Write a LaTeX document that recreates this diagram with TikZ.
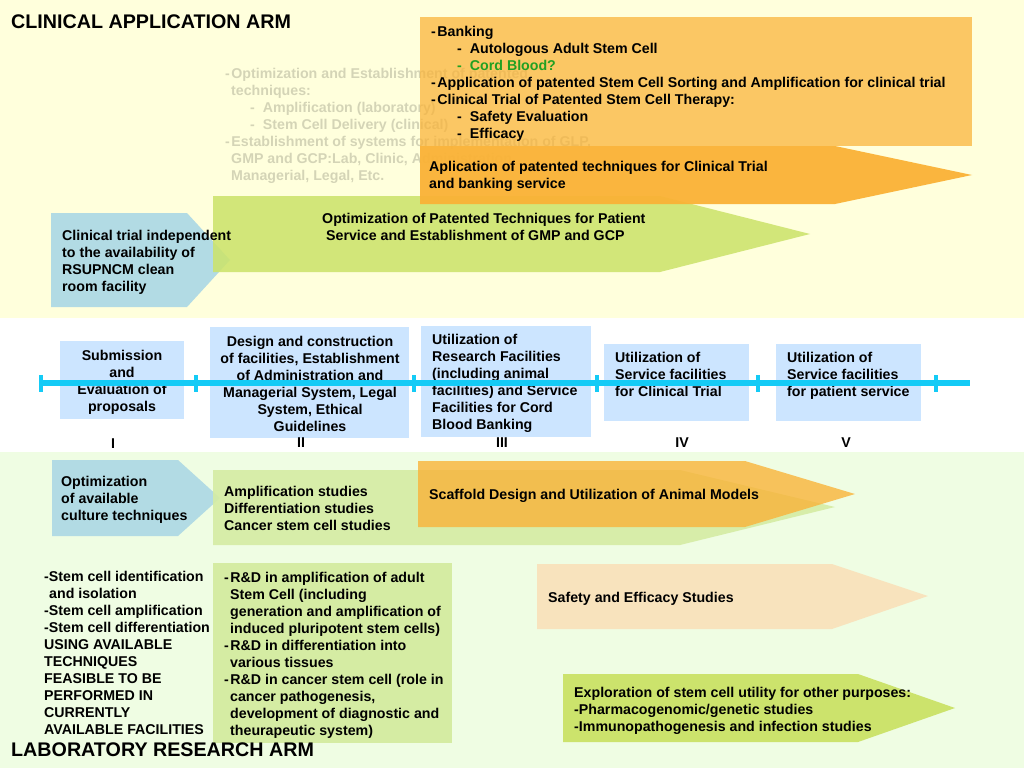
\documentclass[tikz,border=0pt]{standalone}
\usepackage{fontspec}
\setmainfont{Liberation Sans}
\definecolor{bgyellow}{HTML}{FFFFDC}
\definecolor{bggreen}{HTML}{EFFDE3}
\definecolor{tagblue}{HTML}{B2DBE4}
\definecolor{limegreen}{HTML}{CCE36C}
\definecolor{palegreen}{HTML}{D5ECA3}
\definecolor{deeporange}{HTML}{FAB236}
\definecolor{tlbox}{HTML}{CCE5FF}
\definecolor{tlcyan}{HTML}{14CBF6}
\definecolor{beige}{HTML}{F8E3BD}
\definecolor{cordgreen}{HTML}{22A022}
\begin{document}
\begin{tikzpicture}[x=1pt, y=-1pt,
    every node/.style={inner sep=0, anchor=north west, align=left, font=\fontsize{14.2}{17}\selectfont\bfseries},
    armtitle/.style={font=\fontsize{19.7}{22}\selectfont\bfseries},
    tline/.style={draw=tlcyan, line width=6}]
    \useasboundingbox (0,0) rectangle (1024,768) ;
    \fill [bgyellow] (0,0) rectangle (1024,318) ;
    \fill [white] (0,318) rectangle (1024,452) ;
    \fill [bggreen] (0,452) rectangle (1024,768) ;

    \node (clintitle) [armtitle] at (11,15) {CLINICAL APPLICATION ARM} ;
    \node (oldplan) [text=black, opacity=0.17] at (225,68) {-\hspace{1.5pt}Optimization and Establishment of patented\\
        \hspace*{6pt}techniques:\\
        \hspace*{25pt}-\hspace*{8pt}Amplification (laboratory)\\
        \hspace*{25pt}-\hspace*{8pt}Stem Cell Delivery (clinical)\\
        -\hspace{1.5pt}Establishment of systems for implementation of GLP,\\
        \hspace*{6pt}GMP and GCP:Lab, Clinic, Administration,\\
        \hspace*{6pt}Managerial, Legal, Etc.} ;
    \fill [tagblue] (51,213) -- (187,213) -- (230,260) -- (187,307) -- (51,307) -- cycle ;
    \fill [limegreen, opacity=0.88] (213,196) -- (660,196) -- (810,234) -- (660,272) -- (213,272) -- cycle ;
    \fill [deeporange, opacity=0.72] (420,17) rectangle (972,146) ;
    \fill [deeporange, opacity=0.95] (420,146) -- (835,146) -- (972,175) -- (835,204) -- (420,204) -- cycle ;
    \node (cleanroom) at (62,230) {Clinical trial independent\\to the availability of\\RSUPNCM clean\\room facility} ;
    \node (gmpgcp) at (322,213) {Optimization of Patented Techniques for Patient\\
        \hspace*{4pt}Service and Establishment of GMP and GCP} ;
    \node (banking) at (431,26) {-\hspace{1.5pt}Banking\\
        \hspace*{26pt}-\hspace*{8pt}Autologous Adult Stem Cell\\
        \hspace*{26pt}{\color{cordgreen}-\hspace*{8pt}Cord Blood?}\\
        -\hspace{1.5pt}Application of patented Stem Cell Sorting and Amplification for clinical trial\\
        -\hspace{1.5pt}Clinical Trial of Patented Stem Cell Therapy:\\
        \hspace*{26pt}-\hspace*{8pt}Safety Evaluation\\
        \hspace*{26pt}-\hspace*{8pt}Efficacy} ;
    \node (clintrial) at (429,161) {Aplication of patented techniques for Clinical Trial\\and banking service} ;

    \fill [tlbox] (60,341) rectangle (184,419) ;
    \fill [tlbox] (210,327) rectangle (409,438) ;
    \fill [tlbox] (421,326) rectangle (591,437) ;
    \fill [tlbox] (604,344) rectangle (749,421) ;
    \fill [tlbox] (776,344) rectangle (921,421) ;
    \node (phaseone) [anchor=north, align=center] at (122,350) {Submission\\and\\Evaluation of\\proposals} ;
    \node (phasetwo) [anchor=north, align=center] at (310,336) {Design and construction\\of facilities, Establishment\\of Administration and\\Managerial System, Legal\\System, Ethical\\Guidelines} ;
    \node (phasethree) at (432,334) {Utilization of\\Research Facilities\\(including animal\\facilities) and Service\\Facilities for Cord\\Blood Banking} ;
    \node (phasefour) at (615,352) {Utilization of\\Service facilities\\for Clinical Trial} ;
    \node (phasefive) at (787,352) {Utilization of\\Service facilities\\for patient service} ;
    \coordinate (tlstart) at (40,383) ;
    \coordinate (tlend) at (970,383) ;
    \draw [tline] (tlstart) -- (tlend) ;
    \foreach \x in {41,196,414,597,758,936}
        \draw [tline, line width=4] (\x,375) -- (\x,392) ;
    \node (romi) [anchor=north] at (113,439) {I} ;
    \node (romii) [anchor=north] at (301,438) {II} ;
    \node (romiii) [anchor=north] at (502,438) {III} ;
    \node (romiv) [anchor=north] at (682,438) {IV} ;
    \node (romv) [anchor=north] at (846,438) {V} ;

    \fill [tagblue] (52,460) -- (178,460) -- (220,498) -- (178,536) -- (52,536) -- cycle ;
    \fill [palegreen, opacity=0.9] (213,470) -- (680,470) -- (835,507) -- (680,545) -- (213,545) -- cycle ;
    \fill [deeporange, opacity=0.78] (418,461) -- (745,461) -- (855,494) -- (745,527) -- (418,527) -- cycle ;
    \fill [palegreen] (213,563) rectangle (452,743) ;
    \fill [beige] (537,564) -- (832,564) -- (928,596) -- (832,629) -- (537,629) -- cycle ;
    \fill [limegreen] (563,674) -- (858,674) -- (955,708) -- (858,742) -- (563,742) -- cycle ;
    \node (culture) at (61,476) {Optimization\\of available\\culture techniques} ;
    \node (studies) at (224,486) {Amplification studies\\Differentiation studies\\Cancer stem cell studies} ;
    \node (scaffold) at (429,489) {Scaffold Design and Utilization of Animal Models} ;
    \node (available) at (44,571) {-Stem cell identification\\
        \hspace*{5pt}and isolation\\
        -Stem cell amplification\\
        -Stem cell differentiation\\
        USING AVAILABLE\\TECHNIQUES\\FEASIBLE TO BE\\PERFORMED IN\\CURRENTLY\\AVAILABLE FACILITIES} ;
    \node (randd) at (224,572) {-\hspace{1.5pt}R\&D in amplification of adult\\
        \hspace*{6pt}Stem Cell (including\\
        \hspace*{6pt}generation and amplification of\\
        \hspace*{6pt}induced pluripotent stem cells)\\
        -\hspace{1.5pt}R\&D in differentiation into\\
        \hspace*{6pt}various tissues\\
        -\hspace{1.5pt}R\&D in cancer stem cell (role in\\
        \hspace*{6pt}cancer pathogenesis,\\
        \hspace*{6pt}development of diagnostic and\\
        \hspace*{6pt}theurapeutic system)} ;
    \node (safety) at (548,592) {Safety and Efficacy Studies} ;
    \node (otheruse) at (574,687) {Exploration of stem cell utility for other purposes:\\-Pharmacogenomic/genetic studies\\-Immunopathogenesis and infection studies} ;
    \node (labtitle) [armtitle] at (11,743) {LABORATORY RESEARCH ARM} ;
\end{tikzpicture}
\end{document}
